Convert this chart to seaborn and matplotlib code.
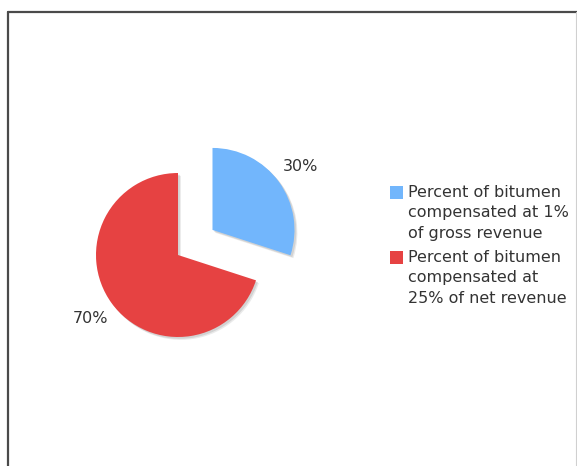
import matplotlib
matplotlib.use("Agg")
import matplotlib.pyplot as plt
import matplotlib.lines as mlines
import matplotlib.patches as mpatches
import seaborn as sns

categories = ["Percent of bitumen\ncompensated at 1%\nof gross revenue",
              "Percent of bitumen\ncompensated at\n25% of net revenue"]
values = [30, 70]
colors = ["#72b6fc", "#e64242"]

sns.set_theme(style="white")
plt.rcParams["font.family"] = ["DejaVu Sans"]

W, H = 577, 466
fig = plt.figure(figsize=(W / 100, H / 100), dpi=100)
fig.patch.set_facecolor("white")

# axes covering the whole figure, 82 px per data unit, pie centre at (178,255)
ax = fig.add_axes([0, 0, 1, 1])
R = 82.0
cx, cy = 178.0, 255.0
wedges, texts, autotexts = ax.pie(
    values, colors=sns.color_palette(colors), startangle=90, counterclock=False,
    explode=[0.52, 0.0], autopct="%d%%", pctdistance=1.32,
    textprops=dict(color="#333333", fontsize=11.5),
    wedgeprops=dict(linewidth=0),
)
# soft grey drop shadow under each slice
for w in wedges:
    for d, a in ((0.035, 0.22), (0.022, 0.32)):
        sh = mpatches.Wedge((w.center[0] + d, w.center[1] - d), w.r, w.theta1, w.theta2,
                            facecolor="#a0a0a0", edgecolor="none", alpha=a,
                            zorder=w.get_zorder() - 0.1)
        ax.add_patch(sh)
ax.set_aspect("auto")
ax.set_xlim(-cx / R, (W - cx) / R)
ax.set_ylim(-(H - cy) / R, cy / R)
ax.axis("off")

leg = fig.legend(wedges, categories, loc="upper left",
                 bbox_to_anchor=(390 / W, 1 - 185 / H), bbox_transform=fig.transFigure,
                 frameon=False, fontsize=11.5, handlelength=0.8, handleheight=0.8,
                 handletextpad=0.35, labelspacing=0.58, borderpad=0, borderaxespad=0)
for t in leg.get_texts():
    t.set_color("#333333")
    t.set_linespacing(1.45)
# put each legend square beside the first line of its label
for p in leg.legend_handles:
    p.set_y(p.get_y() + 15.0)

# frame around the chart
kw = dict(transform=fig.transFigure, color="#4a4a4a", linewidth=1.6)
fig.add_artist(mlines.Line2D([8 / W, 8 / W], [0, 1 - 11.7 / H], **kw))
fig.add_artist(mlines.Line2D([8 / W, 1], [1 - 11.7 / H, 1 - 11.7 / H], **kw))
fig.add_artist(mlines.Line2D([576 / W, 576 / W], [0, 1 - 11.7 / H],
                             transform=fig.transFigure, color="#d0d0d0", linewidth=0.8))

fig.savefig("out.png", dpi=100, facecolor="white")
